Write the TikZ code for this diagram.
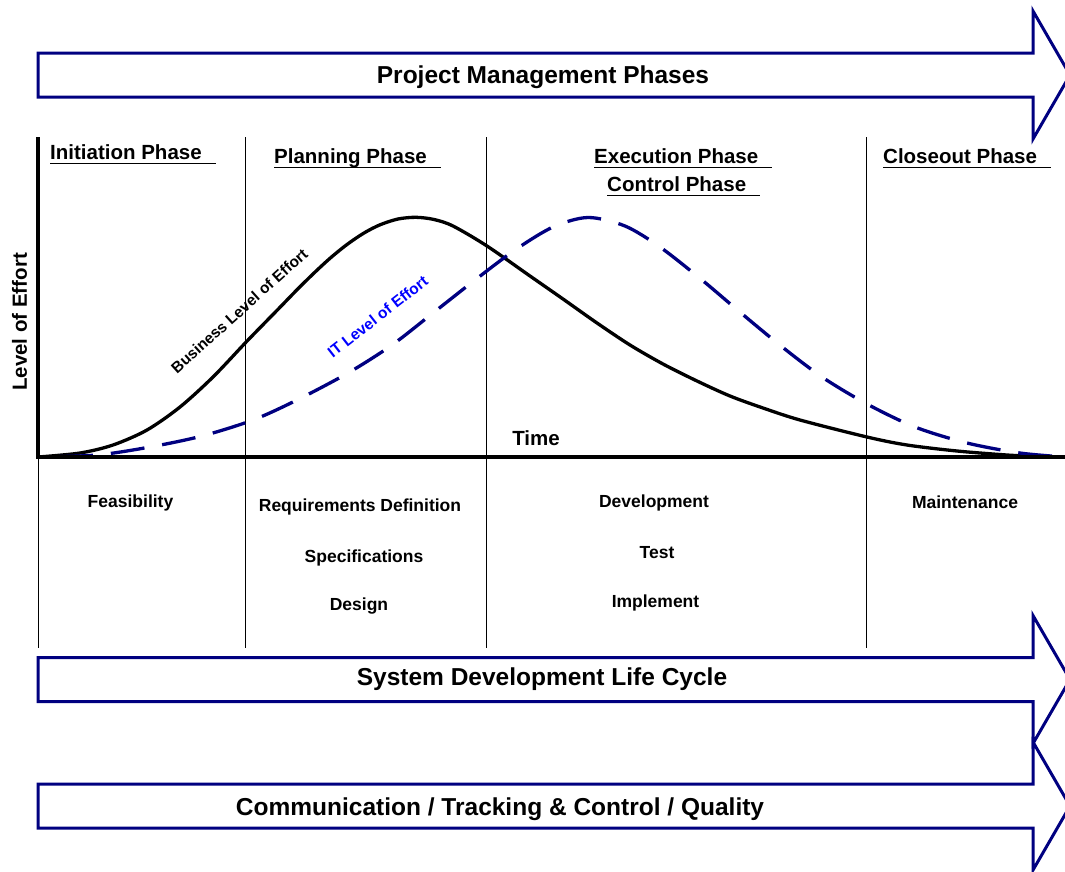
\documentclass[tikz,border=0pt]{standalone}
\usepackage{fontspec}
\setmainfont{Liberation Sans}
\usepackage{tikz}

\definecolor{bandblue}{RGB}{0,0,128}
\definecolor{itblue}{RGB}{0,0,255}

\begin{document}
\begin{tikzpicture}[x=1pt,y=-1pt,
	band/.style={draw=bandblue, line width=3pt, line join=miter},
	bandlabel/.style={inner sep=0, anchor=base, font=\fontsize{24.5}{29}\selectfont\bfseries},
	phase/.style={inner sep=0, anchor=base west, font=\fontsize{20.5}{24}\selectfont\bfseries},
	task/.style={inner sep=0, anchor=base, font=\fontsize{17.5}{21}\selectfont\bfseries},
	curvelabel/.style={inner sep=0, anchor=base, font=\fontsize{15.5}{18}\selectfont\bfseries},
	divider/.style={line width=1pt},
	axisline/.style={line width=4.5pt, line join=miter},
	business/.style={line width=3.3pt, line cap=round},
	itcurve/.style={line width=3.3pt, bandblue, dash pattern=on 34pt off 18pt, dash phase=31pt}]

	\useasboundingbox (0,0) rectangle (1065,871);

	\foreach \c in {75,679.5,806}
		\draw[band] (38,\c-22) -- (1033,\c-22) -- (1033,\c-64) -- (1070,\c) -- (1033,\c+64) -- (1033,\c+22) -- (38,\c+22) -- cycle;

	\node[bandlabel] (pmp) at (543,83.5) {Project Management Phases};
	\node[bandlabel] (sdlc) at (542,685.5) {System Development Life Cycle};
	\node[bandlabel] (ctq) at (500,815) {Communication / Tracking \& Control / Quality};

	\coordinate (origin) at (38,457);
	\coordinate (ytop) at (38,137);
	\coordinate (xend) at (1065,457);

	\foreach \x in {245,486,866}
		\draw[divider] (\x,137) -- (\x,648);
	\draw[divider] (origin) -- (38,648);

	\node[phase] (ini) at (50,159) {Initiation Phase};
	\node[phase] (pla) at (274,163) {Planning Phase};
	\node[phase] (exe) at (594,163) {Execution Phase};
	\node[phase] (con) at (607,191) {Control Phase};
	\node[phase] (clo) at (883,163) {Closeout Phase};
	\foreach \n in {ini,pla,exe,con,clo}
		\draw[line width=1pt] ([yshift=-4pt]\n.base west) -- ([xshift=14pt,yshift=-4pt]\n.base east);

	% effort curves
	\draw[business] plot[smooth] coordinates {(38,457) (80,453) (113,445) (147,430) (180,407) (213,377) (245,343.2) (262,325.7) (280,307.3) (296,290.8) (313,274) (330,258.3) (347,244.5) (364,233) (380,224.8) (398,219) (416,217.3) (434,219.5) (453,226) (487,246) (530,276) (563,299) (597,323) (630,345) (663,364) (697,381) (730,396) (763,408) (800,420) (867,437) (907,445) (957,451) (1007,455) (1045,457)};
	\draw[itcurve] plot[smooth] coordinates {(38,457) (97,455) (150,447) (202,436) (253,420) (297,400) (348,373) (392,345) (433,313) (475,280) (515,250) (553,227) (588,217.5) (625,226) (660,247) (702,280) (741,313) (781,346) (822,377) (867,404) (915,427) (967,443) (1020,453) (1065,457)};

	\draw[axisline] (ytop) -- (origin) -- (xend);

	\node[phase, anchor=base] (time) at (536,445) {Time};
	\node[phase, anchor=base, rotate=90] (effort) at (27,322) {Level of Effort};
	\node[curvelabel, rotate=42] (bus) at (243,315) {Business Level of Effort};
	\node[curvelabel, rotate=38, text=itblue] (itl) at (381,321) {IT Level of Effort};

	\node[task] (fea) at (130.5,507) {Feasibility};
	\node[task] (req) at (360,511) {Requirements Definition};
	\node[task] (spe) at (364,562) {Specifications};
	\node[task] (des) at (359,610) {Design};
	\node[task] (dev) at (654,507) {Development};
	\node[task] (tst) at (657,558) {Test};
	\node[task] (imp) at (655.5,607) {Implement};
	\node[task] (mai) at (965,508) {Maintenance};

\end{tikzpicture}
\end{document}
